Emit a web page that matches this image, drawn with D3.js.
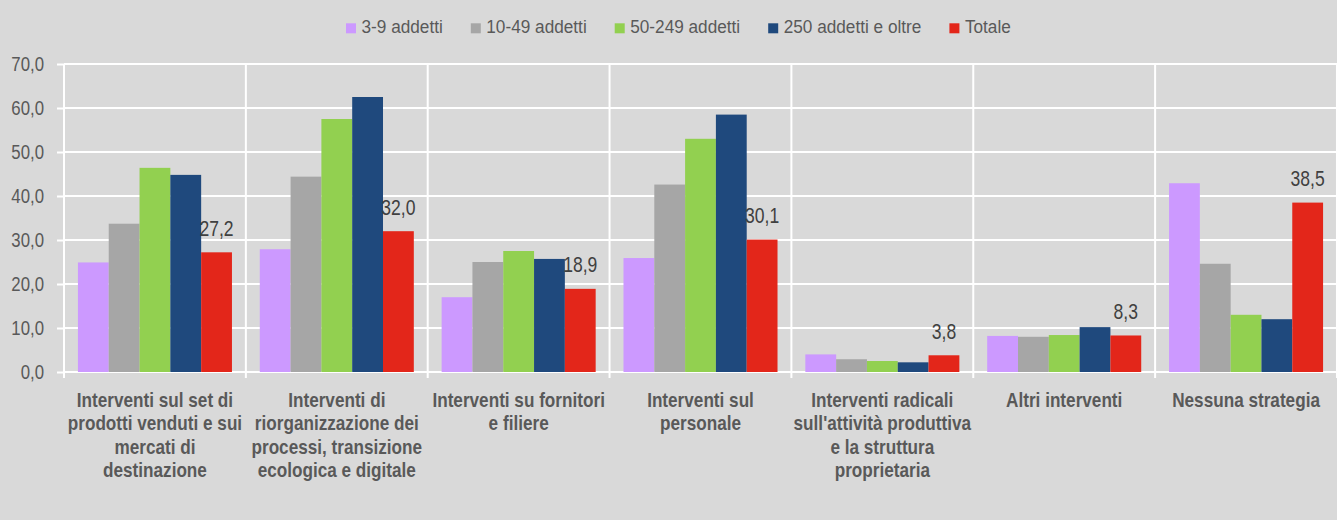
<!DOCTYPE html>
<html>
<head>
<meta charset="utf-8">
<script src="https://cdn.jsdelivr.net/npm/d3@7"></script>
<style>
  html, body { margin: 0; padding: 0; background: #d9d9d9; }
  svg { display: block; font-family: "Liberation Sans", Arial, sans-serif; }
  .grid line { stroke: #fff; stroke-width: 2; }
  .axis path, .axis line { stroke: #fff; stroke-width: 2; }
  .axis text { fill: #595959; font-size: 21px; }
</style>
</head>
<body>
<div id="chart"></div>
<script>
'use strict';

const categories = [
  'Interventi sul set di prodotti venduti e sui mercati di destinazione',
  'Interventi di riorganizzazione dei processi, transizione ecologica e digitale',
  'Interventi su fornitori e filiere',
  'Interventi sul personale',
  'Interventi radicali sull\'attività produttiva e la struttura proprietaria',
  'Altri interventi',
  'Nessuna strategia'
];

// category labels as they wrap in the picture
const categoryLines = [
  ['Interventi sul set di', 'prodotti venduti e sui', 'mercati di', 'destinazione'],
  ['Interventi di', 'riorganizzazione dei', 'processi, transizione', 'ecologica e digitale'],
  ['Interventi su fornitori', 'e filiere'],
  ['Interventi sul', 'personale'],
  ['Interventi radicali', 'sull\'attività produttiva', 'e la struttura', 'proprietaria'],
  ['Altri interventi'],
  ['Nessuna strategia']
];

const seriesNames = ['3-9 addetti', '10-49 addetti', '50-249 addetti', '250 addetti e oltre', 'Totale'];
const seriesColors = ['#cc99ff', '#a6a6a6', '#92d050', '#1f497d', '#e3261a'];

const addetti3_9    = [24.9, 27.9, 17.0, 25.9, 4.0, 8.2, 42.9];
const addetti10_49  = [33.7, 44.4, 25.0, 42.6, 2.9, 8.0, 24.6];
const addetti50_249 = [46.4, 57.5, 27.5, 53.0, 2.5, 8.4, 13.0];
const addetti250    = [44.8, 62.5, 25.7, 58.5, 2.2, 10.2, 12.0];
const totale        = [27.2, 32.0, 18.9, 30.1, 3.8, 8.3, 38.5];

const yTicks = [0, 10, 20, 30, 40, 50, 60, 70];

const series = [addetti3_9, addetti10_49, addetti50_249, addetti250, totale];

var W = 1337, H = 520,
    padl = 64, padr = 0, padt = 64, bottomY = 372;

var it = d3.formatLocale({ decimal: ',', thousands: '.', grouping: [3], currency: ['', '€'] });
var fmt = it.format('.1f');

// the chart font is a narrow sans, so squeeze the text horizontally
function narrow(sx) {
  return function(x, y) { return 'translate(' + x + ',' + y + ') scale(' + sx + ',1)'; };
}

var svg = d3.select('#chart').append('svg')
    .attr('width', W)
    .attr('height', H);

svg.append('rect').attr('width', W).attr('height', H).attr('fill', '#d9d9d9');

var x = d3.scaleBand()
    .domain(categories)
    .range([padl, W - padr])
    .paddingInner(0.153)
    .paddingOuter(0.0766);

var xs = d3.scaleBand()
    .domain(seriesNames)
    .range([0, x.bandwidth()]);

var y = d3.scaleLinear().domain([0, 70]).range([bottomY, padt]);

// horizontal gridlines
svg.append('g')
    .attr('class', 'grid')
    .selectAll('line')
    .data(yTicks.slice(1))
    .enter().append('line')
    .attr('x1', padl).attr('x2', W - padr)
    .attr('y1', d => y(d)).attr('y2', d => y(d));

// vertical separators between categories
var step = x.step();
svg.append('g')
    .attr('class', 'grid')
    .selectAll('line')
    .data(d3.range(1, categories.length + 1))
    .enter().append('line')
    .attr('x1', i => padl + i * step).attr('x2', i => padl + i * step)
    .attr('y1', padt).attr('y2', bottomY + 6);

// y axis
var yAxis = d3.axisLeft(y)
    .tickValues(yTicks)
    .tickSize(7)
    .tickFormat(fmt);

var tickT = narrow(0.8);
svg.append('g')
    .attr('class', 'y axis')
    .attr('transform', 'translate(' + padl + ',0)')
    .call(yAxis)
    .call(g => g.select('.domain').attr('d', 'M0,' + padt + 'V' + (bottomY + 6)))
    .call(g => g.selectAll('.tick text')
        .attr('x', null)
        .attr('transform', tickT(-20, 0)));

// bottom axis line
svg.append('line')
    .attr('x1', padl).attr('x2', W - padr)
    .attr('y1', bottomY).attr('y2', bottomY)
    .attr('stroke', '#fff').attr('stroke-width', 2);

// bars
var groups = svg.selectAll('g.cat')
    .data(categories)
    .enter().append('g')
    .attr('class', 'cat')
    .attr('transform', d => 'translate(' + x(d) + ',0)');

groups.selectAll('rect')
    .data((d, ci) => series.map((s, si) => ({ name: seriesNames[si], value: s[ci], color: seriesColors[si] })))
    .enter().append('rect')
    .attr('x', d => xs(d.name))
    .attr('width', xs.bandwidth())
    .attr('y', d => y(d.value))
    .attr('height', d => bottomY - y(d.value))
    .attr('fill', d => d.color);

// value labels on the Totale bars only
var labelT = narrow(0.78);
svg.append('g')
    .selectAll('text')
    .data(categories)
    .enter().append('text')
    .attr('transform', (d, i) => labelT(x(d) + xs('Totale') + xs.bandwidth() / 2, y(totale[i]) - 16.5))
    .attr('text-anchor', 'middle')
    .attr('fill', '#404040')
    .style('font-size', '22.5px')
    .text((d, i) => fmt(totale[i]));

// category labels
var catT = narrow(0.88);
var catLabels = svg.append('g')
    .selectAll('text')
    .data(categories)
    .enter().append('text')
    .attr('text-anchor', 'middle')
    .attr('fill', '#595959')
    .style('font-size', '19.5px')
    .style('font-weight', 'bold')
    .attr('transform', d => catT(x(d) + x.bandwidth() / 2, 407));

catLabels.selectAll('tspan')
    .data((d, i) => categoryLines[i])
    .enter().append('tspan')
    .attr('x', 0)
    .attr('y', (d, i) => i * 23.4)
    .text(d => d);

// legend
var legendT = narrow(0.93);
var legend = svg.append('g').attr('transform', 'translate(346,0)');
var lx = 0;
seriesNames.forEach(function(name, i) {
  var item = legend.append('g').attr('transform', 'translate(' + lx + ',0)');
  item.append('rect')
    .attr('x', 0).attr('y', 23.3)
    .attr('width', 10).attr('height', 10)
    .attr('fill', seriesColors[i]);
  var t = item.append('text')
    .attr('transform', legendT(15.5, 33.3))
    .attr('fill', '#595959')
    .style('font-size', '18.5px')
    .text(name);
  lx += 15.5 + t.node().getComputedTextLength() * 0.93 + 28;
});
</script>
</body>
</html>
